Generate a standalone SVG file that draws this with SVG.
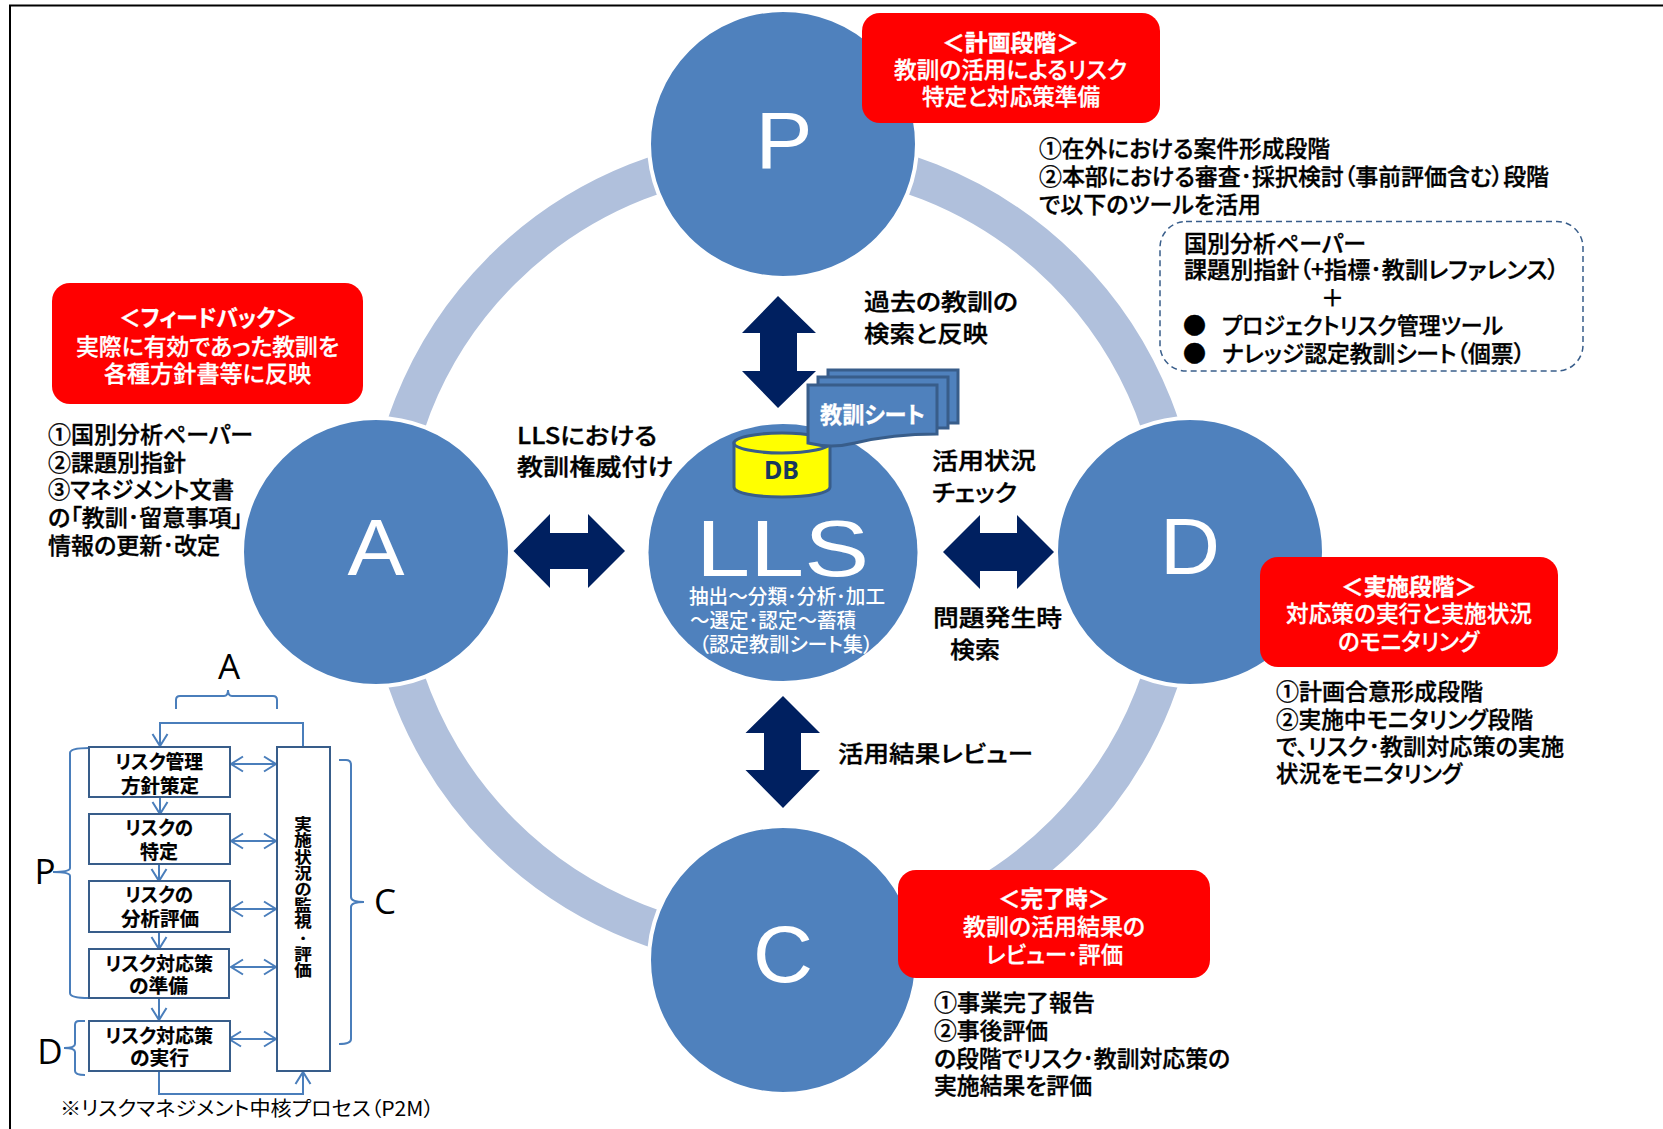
<svg xmlns="http://www.w3.org/2000/svg" width="1663" height="1129" viewBox="0 0 1663 1129">
<style>
text{font-family:"Noto Sans CJK JP","Noto Sans",sans-serif;fill:#000;font-feature-settings:"palt"}
.t{font-size:23px;font-weight:500;stroke:#000;stroke-width:.35px}
.w{font-size:23px;font-weight:500;fill:#fff;stroke:#fff;stroke-width:.3px}
.wb{font-size:23px;font-weight:700;fill:#fff;stroke:#fff;stroke-width:.3px}
.s{font-size:19px;font-weight:700;stroke:#000;stroke-width:.2px}
.c{font-size:20px;font-weight:500;fill:#fff}
.big{font-family:"Liberation Sans",sans-serif;font-size:80px;fill:#fff;text-anchor:middle}
.lt{font-family:"Open Sans",sans-serif;font-size:35px;fill:#000;text-anchor:middle}
.node{fill:#4F81BD;stroke:#fff;stroke-width:4}
.red{fill:#FF0000}
.nav{fill:#002060}
.box{fill:#fff;stroke:#385D8A;stroke-width:2}
.ln{fill:none;stroke:#4A7EBB;stroke-width:2}
.sheet{fill:#4F81BD;stroke:#385D8A;stroke-width:3}
</style>
<defs>
<marker id="o" markerUnits="userSpaceOnUse" markerWidth="18" markerHeight="20" refX="13" refY="9" orient="auto-start-reverse"><path d="M1 1.5L13 9L1 16.5" fill="none" stroke="#4A7EBB" stroke-width="2"/></marker>
</defs>
<rect width="1663" height="1129" fill="#fff"/>
<path d="M10 1129V5.500H1663" fill="none" stroke="#000" stroke-width="2"/>
<g id="connectors">
<circle id="ring" cx="783" cy="552" r="398" fill="none" stroke="#B0C0DC" stroke-width="38"/>
<path class="nav" d="M778 296L816 333H797V371H816L778 408L742 371H760V333H742Z"/>
<path class="nav" d="M943 552L980 515V533H1017V515L1054 552L1017 589V571H980V589Z"/>
<path class="nav" d="M513.500 551L550 514V533H588V514L625 551L588 588V569H550V588Z"/>
<path class="nav" d="M783 696L820 733H801V770H820L783 808L745.500 770H764V733H745.500Z"/>
<path class="ln" d="M303 747V723H160V746" marker-end="url(#o)"/>
<path class="ln" d="M160 797V814" marker-end="url(#o)"/>
<path class="ln" d="M159 864V881" marker-end="url(#o)"/>
<path class="ln" d="M159 932V949" marker-end="url(#o)"/>
<path class="ln" d="M159 998V1020" marker-end="url(#o)"/>
<path class="ln" d="M159 1071V1094H303V1072" marker-end="url(#o)"/>
<path class="ln" d="M231 764H276" marker-start="url(#o)" marker-end="url(#o)"/>
<path class="ln" d="M231 841H276" marker-start="url(#o)" marker-end="url(#o)"/>
<path class="ln" d="M231 909H276" marker-start="url(#o)" marker-end="url(#o)"/>
<path class="ln" d="M231 967H276" marker-start="url(#o)" marker-end="url(#o)"/>
<path class="ln" d="M229 1039H276" marker-start="url(#o)" marker-end="url(#o)"/>
<path class="ln" d="M176 709V700Q176 696 180 696H224Q228 696 228 690Q228 696 232 696H273Q277 696 277 700V709"/>
<path class="ln" d="M89 748Q70 748 70 753V868Q70 872 53 872Q70 872 70 876V993Q70 998 89 998"/>
<path class="ln" d="M339 760H346Q351 760 351 765V897Q351 902 364 902Q351 902 351 907V1039Q351 1044 339 1044"/>
<path class="ln" d="M85 1021H79Q75 1021 75 1025V1044Q75 1048 64 1048Q75 1048 75 1052V1071Q75 1075 85 1075"/>
</g>
<g id="node-P"><circle class="node" cx="783" cy="144" r="134"/><text class="big" x="784" y="168" textLength="57" lengthAdjust="spacingAndGlyphs">P</text></g>
<g id="node-A"><circle class="node" cx="376" cy="552" r="134"/><text class="big" x="376" y="575" textLength="57" lengthAdjust="spacingAndGlyphs">A</text></g>
<g id="node-D"><circle class="node" cx="1190" cy="552" r="134"/><text class="big" x="1190" y="574" textLength="60" lengthAdjust="spacingAndGlyphs">D</text></g>
<g id="node-C"><circle class="node" cx="783" cy="960" r="134"/><text class="big" x="783" y="982" textLength="60" lengthAdjust="spacingAndGlyphs">C</text></g>
<g id="node-LLS">
<ellipse cx="783" cy="552.500" rx="134.500" ry="128.500" fill="#4F81BD"/>
<text class="big" x="696" y="576" textLength="173" lengthAdjust="spacingAndGlyphs" style="text-anchor:start">LLS</text>
<text class="c" x="689" y="604" textLength="196" lengthAdjust="spacingAndGlyphs">抽出～分類･分析･加工</text>
<text class="c" x="690" y="628" textLength="166" lengthAdjust="spacingAndGlyphs">～選定･認定～蓄積</text>
<text class="c" x="699" y="652" textLength="174" lengthAdjust="spacingAndGlyphs">（認定教訓シート集）</text>
</g>
<g id="node-DB">
<path d="M734 443V487C734 493 755 497 782 497C809 497 830 493 830 487V443Z" fill="#FFFF00" stroke="#385D8A" stroke-width="3"/>
<ellipse cx="782" cy="443" rx="48" ry="10" fill="#FFFF00" stroke="#385D8A" stroke-width="3"/>
<text x="764" y="479" textLength="35" lengthAdjust="spacingAndGlyphs" style="font-family:'Noto Sans',sans-serif;font-size:25px;font-weight:700;fill:#17375E">DB</text>
</g>
<g id="node-sheet">
<path class="sheet" d="M828 370H958V423H828Z"/>
<path class="sheet" d="M818 377H948V428H818Z"/>
<path class="sheet" d="M808 385H937V434C905 434 880 437 855 443C835 448 820 446 808 443Z"/>
<text class="wb" x="820" y="423" textLength="105" lengthAdjust="spacingAndGlyphs">教訓シート</text>
</g>
<g id="callout-plan">
<rect class="red" x="862" y="13" width="298" height="110" rx="18"/>
<text class="wb" x="942" y="51" textLength="137" lengthAdjust="spacingAndGlyphs">＜計画段階＞</text>
<text class="w" x="894" y="78" textLength="233" lengthAdjust="spacingAndGlyphs">教訓の活用によるリスク</text>
<text class="w" x="922" y="105" textLength="178" lengthAdjust="spacingAndGlyphs">特定と対応策準備</text>
</g>
<g id="callout-feedback">
<rect class="red" x="52" y="283" width="311" height="121" rx="18"/>
<text class="wb" x="119" y="326" textLength="178" lengthAdjust="spacingAndGlyphs">＜フィードバック＞</text>
<text class="w" x="76" y="355" textLength="263" lengthAdjust="spacingAndGlyphs">実際に有効であった教訓を</text>
<text class="w" x="104" y="382" textLength="207" lengthAdjust="spacingAndGlyphs">各種方針書等に反映</text>
</g>
<g id="callout-do">
<rect class="red" x="1260" y="557" width="298" height="110" rx="18"/>
<text class="wb" x="1341" y="595" textLength="136" lengthAdjust="spacingAndGlyphs">＜実施段階＞</text>
<text class="w" x="1286" y="622" textLength="246" lengthAdjust="spacingAndGlyphs">対応策の実行と実施状況</text>
<text class="w" x="1338" y="650" textLength="141" lengthAdjust="spacingAndGlyphs">のモニタリング</text>
</g>
<g id="callout-check">
<rect class="red" x="898" y="870" width="312" height="108" rx="18"/>
<text class="wb" x="998" y="907" textLength="112" lengthAdjust="spacingAndGlyphs">＜完了時＞</text>
<text class="w" x="963" y="935" textLength="182" lengthAdjust="spacingAndGlyphs">教訓の活用結果の</text>
<text class="w" x="986" y="963" textLength="137" lengthAdjust="spacingAndGlyphs">レビュー･評価</text>
</g>
<g id="tools">
<rect x="1160" y="221.500" width="423" height="149.500" rx="26" fill="none" stroke="#385D8A" stroke-width="1.500" stroke-dasharray="6 4"/>
<text class="t" x="1184" y="252" textLength="182" lengthAdjust="spacingAndGlyphs">国別分析ペーパー</text>
<text class="t" x="1184" y="278" textLength="375" lengthAdjust="spacingAndGlyphs">課題別指針（+指標･教訓レファレンス）</text>
<text class="t" x="1321" y="306">＋</text>
<text class="t" x="1183" y="334">●</text>
<text class="t" x="1222" y="334" textLength="281" lengthAdjust="spacingAndGlyphs">プロジェクトリスク管理ツール</text>
<text class="t" x="1183" y="362">●</text>
<text class="t" x="1222" y="362" textLength="303" lengthAdjust="spacingAndGlyphs">ナレッジ認定教訓シート（個票）</text>
</g>
<g id="labels">
<text class="t" x="1039" y="157" textLength="291" lengthAdjust="spacingAndGlyphs">①在外における案件形成段階</text>
<text class="t" x="1039" y="185" textLength="510" lengthAdjust="spacingAndGlyphs">②本部における審査･採択検討（事前評価含む）段階</text>
<text class="t" x="1039" y="213" textLength="222" lengthAdjust="spacingAndGlyphs">で以下のツールを活用</text>
<text class="t" x="48" y="443" textLength="205" lengthAdjust="spacingAndGlyphs">①国別分析ペーパー</text>
<text class="t" x="48" y="471" textLength="138" lengthAdjust="spacingAndGlyphs">②課題別指針</text>
<text class="t" x="48" y="498" textLength="186" lengthAdjust="spacingAndGlyphs">③マネジメント文書</text>
<text class="t" x="48" y="526" textLength="195" lengthAdjust="spacingAndGlyphs">の「教訓･留意事項」</text>
<text class="t" x="48" y="554" textLength="172" lengthAdjust="spacingAndGlyphs">情報の更新･改定</text>
<text class="t" x="517" y="444" textLength="140" lengthAdjust="spacingAndGlyphs">LLSにおける</text>
<text class="t" x="517" y="475" textLength="156" lengthAdjust="spacingAndGlyphs">教訓権威付け</text>
<text class="t" x="864" y="310" textLength="154" lengthAdjust="spacingAndGlyphs">過去の教訓の</text>
<text class="t" x="864" y="342" textLength="124" lengthAdjust="spacingAndGlyphs">検索と反映</text>
<text class="t" x="932" y="469" textLength="104" lengthAdjust="spacingAndGlyphs">活用状況</text>
<text class="t" x="932" y="501" textLength="85" lengthAdjust="spacingAndGlyphs">チェック</text>
<text class="t" x="933" y="626" textLength="129" lengthAdjust="spacingAndGlyphs">問題発生時</text>
<text class="t" x="950" y="658" textLength="50" lengthAdjust="spacingAndGlyphs">検索</text>
<text class="t" x="838" y="762" textLength="195" lengthAdjust="spacingAndGlyphs">活用結果レビュー</text>
<text class="t" x="1276" y="700" textLength="207" lengthAdjust="spacingAndGlyphs">①計画合意形成段階</text>
<text class="t" x="1276" y="728" textLength="257" lengthAdjust="spacingAndGlyphs">②実施中モニタリング段階</text>
<text class="t" x="1276" y="755" textLength="288" lengthAdjust="spacingAndGlyphs">で、リスク･教訓対応策の実施</text>
<text class="t" x="1276" y="782" textLength="186" lengthAdjust="spacingAndGlyphs">状況をモニタリング</text>
<text class="t" x="934" y="1011" textLength="161" lengthAdjust="spacingAndGlyphs">①事業完了報告</text>
<text class="t" x="934" y="1039" textLength="114" lengthAdjust="spacingAndGlyphs">②事後評価</text>
<text class="t" x="934" y="1067" textLength="296" lengthAdjust="spacingAndGlyphs">の段階でリスク･教訓対応策の</text>
<text class="t" x="934" y="1094" textLength="158" lengthAdjust="spacingAndGlyphs">実施結果を評価</text>
<text class="lt" x="229" y="679">A</text>
<text class="lt" x="45" y="884">P</text>
<text class="lt" x="385" y="914">C</text>
<text class="lt" x="50" y="1064">D</text>
<text x="60" y="1116" textLength="374" lengthAdjust="spacingAndGlyphs" style="font-size:20px">※リスクマネジメント中核プロセス（P2M）</text>
</g>
<g id="step-1"><rect class="box" x="89" y="747" width="141" height="50"/><text class="s" x="115" y="769" textLength="88" lengthAdjust="spacingAndGlyphs">リスク管理</text><text class="s" x="121" y="793" textLength="78" lengthAdjust="spacingAndGlyphs">方針策定</text></g>
<g id="step-2"><rect class="box" x="89" y="814" width="141" height="50"/><text class="s" x="125" y="835" textLength="68" lengthAdjust="spacingAndGlyphs">リスクの</text><text class="s" x="140" y="859" textLength="38" lengthAdjust="spacingAndGlyphs">特定</text></g>
<g id="step-3"><rect class="box" x="89" y="881" width="141" height="51"/><text class="s" x="125" y="902" textLength="68" lengthAdjust="spacingAndGlyphs">リスクの</text><text class="s" x="121" y="926" textLength="78" lengthAdjust="spacingAndGlyphs">分析評価</text></g>
<g id="step-4"><rect class="box" x="89" y="949" width="140" height="49"/><text class="s" x="105" y="971" textLength="108" lengthAdjust="spacingAndGlyphs">リスク対応策</text><text class="s" x="129" y="993" textLength="59" lengthAdjust="spacingAndGlyphs">の準備</text></g>
<g id="step-5"><rect class="box" x="89" y="1021" width="141" height="50"/><text class="s" x="105" y="1043" textLength="108" lengthAdjust="spacingAndGlyphs">リスク対応策</text><text class="s" x="130" y="1065" textLength="59" lengthAdjust="spacingAndGlyphs">の実行</text></g>
<g id="step-monitor"><rect class="box" x="277" y="747" width="53" height="324"/><text class="s" x="303" y="816" textLength="162" lengthAdjust="spacingAndGlyphs" style="writing-mode:vertical-rl;text-orientation:upright;font-size:17.500px">実施状況の監視･評価</text></g>
</svg>
